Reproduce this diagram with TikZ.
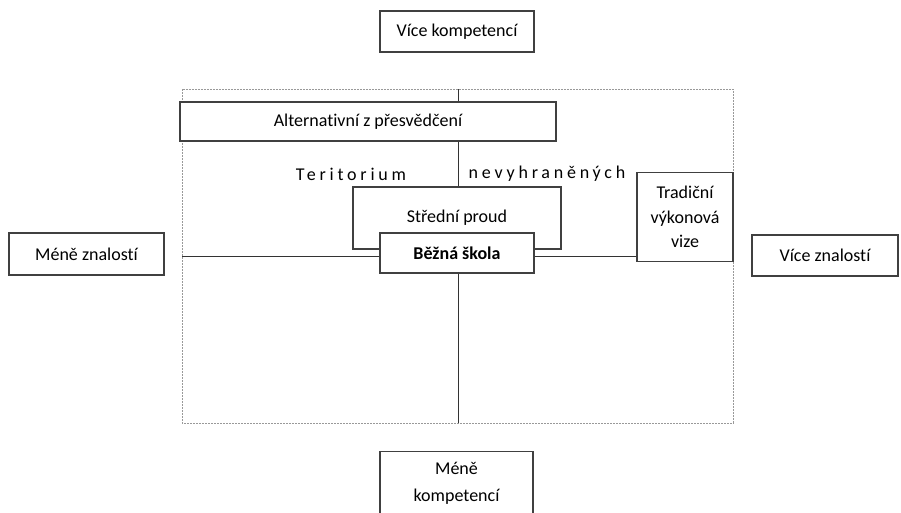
\documentclass[tikz,border=0pt]{standalone}
\usepackage{fontspec}
\setmainfont[Ligatures=NoCommon]{Carlito}
\newfontfamily\spacedfont[LetterSpace=21,Ligatures=NoCommon]{Carlito}
\begin{document}
\begin{tikzpicture}[x=1pt,y=-1pt,
    box/.style={draw=black!75,line width=1.4pt,fill=white,inner sep=0pt,
        font=\fontsize{18}{24.5}\selectfont,align=center},
    axis/.style={draw=black!80,line width=0.9pt},
    frame/.style={draw=black!40,dashed,dash pattern=on 2pt off 1pt,line width=0.9pt}]
    \useasboundingbox (0,0) rectangle (901,512);
    \clip (0,0) rectangle (901,512);
    % frame and axes
    \draw[frame] (182,89) rectangle (733,423);
    \coordinate (top) at (458,89);
    \coordinate (bottom) at (458,423);
    \coordinate (left) at (182,256);
    \coordinate (right) at (733,256);
    \draw[axis] (top) -- (bottom);
    \draw[axis] (left) -- (right);
    % boxes outside the frame
    \node[box,minimum width=154,minimum height=41] (vk) at (457,31.5) {Více kompetencí};
    \node[box,minimum width=153,minimum height=64,anchor=north,
        font=\fontsize{18}{27}\selectfont] (mk) at (456.5,451) {Méně\\kompetencí};
    \node[box,minimum width=155,minimum height=42] (mz) at (86.5,254) {Méně znalostí};
    \node[box,minimum width=146,minimum height=41] (vz) at (825,255.5) {Více znalostí};
    % boxes inside the frame
    \node[box,minimum width=376,minimum height=39] (alt) at (368,121.5) {Alternativní z přesvědčení};
    \node[box,minimum width=208,minimum height=62] (sp) at (457,218) {Střední proud};
    \node[box,minimum width=154,minimum height=40,font=\fontsize{18}{24}\selectfont\bfseries] (bs) at (457,253) {Běžná škola};
    \node[box,minimum width=96,minimum height=89] (tr) at (685,217) {Tradiční\\výkonová\\vize};
    % labels
    \node[font=\fontsize{18}{20}\spacedfont] (ter) at (351,174) {Teritorium};
    \node[font=\fontsize{18}{20}\spacedfont] (nev) at (547,174) {nevyhraněných};
\end{tikzpicture}
\end{document}
